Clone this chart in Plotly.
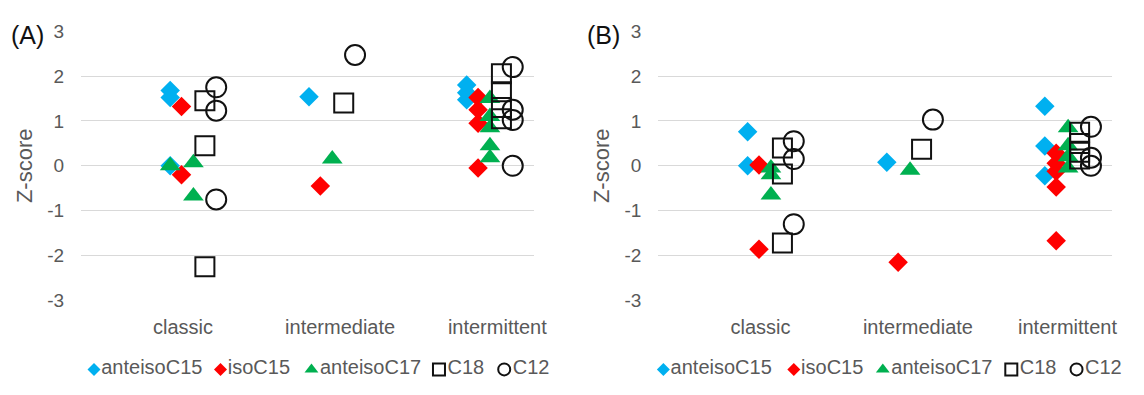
import plotly.graph_objects as go

# ---------------- data ----------------
CATEGORIES = ["classic", "intermediate", "intermittent"]
SERIES = ["anteisoC15", "isoC15", "anteisoC17", "C18", "C12"]

# Panel A : (category, z-score) per series
A_anteisoC15_cat = ["classic", "classic", "classic", "intermediate", "intermittent", "intermittent", "intermittent"]
A_anteisoC15_val = [1.68, 1.52, 0.0, 1.54, 1.80, 1.63, 1.47]
A_isoC15_cat = ["classic", "classic", "intermediate", "intermittent", "intermittent", "intermittent", "intermittent"]
A_isoC15_val = [1.32, -0.20, -0.45, 1.52, 1.25, 0.95, -0.05]
A_anteisoC17_cat = ["classic", "classic", "classic", "intermediate", "intermittent", "intermittent", "intermittent", "intermittent", "intermittent"]
A_anteisoC17_val = [0.0, 0.07, -0.67, 0.15, 1.50, 1.10, 0.85, 0.45, 0.18]
A_anteisoC17_shift = [-0.154, 0, 0, 0, 0, 0, 0, 0, 0]
A_C18_cat = ["classic", "classic", "classic", "intermediate", "intermittent", "intermittent", "intermittent", "intermittent"]
A_C18_val = [1.45, 0.45, -2.25, 1.40, 2.05, 1.65, 1.30, 1.05]
A_C12_cat = ["classic", "classic", "classic", "intermediate", "intermittent", "intermittent", "intermittent", "intermittent"]
A_C12_val = [1.75, 1.23, -0.75, 2.47, 2.20, 1.25, 1.02, 0.0]

# Panel B
B_anteisoC15_cat = ["classic", "classic", "intermediate", "intermittent", "intermittent", "intermittent"]
B_anteisoC15_val = [0.76, 0.0, 0.08, 1.33, 0.44, -0.22]
B_isoC15_cat = ["classic", "classic", "intermediate", "intermittent", "intermittent", "intermittent", "intermittent", "intermittent"]
B_isoC15_val = [0.02, -1.86, -2.15, 0.28, 0.06, -0.12, -0.47, -1.67]
B_anteisoC17_cat = ["classic", "classic", "classic", "intermediate", "intermittent", "intermittent", "intermittent", "intermittent"]
B_anteisoC17_val = [-0.05, -0.20, -0.65, -0.10, 0.85, 0.45, 0.20, -0.05]
B_C18_cat = ["classic", "classic", "classic", "intermediate", "intermittent", "intermittent", "intermittent", "intermittent"]
B_C18_val = [0.40, -0.18, -1.72, 0.37, 0.75, 0.50, 0.30, 0.15]
B_C12_cat = ["classic", "classic", "classic", "intermediate", "intermittent", "intermittent", "intermittent"]
B_C12_val = [0.55, 0.15, -1.30, 1.03, 0.87, 0.18, 0.0]

Y_TICKS = [-3, -2, -1, 0, 1, 2, 3]
Y_TICK_TEXT = ["-3", "-2", "-1", "0", "1", "2", "3"]

# ---------------- layout / style ----------------
FONT = "Liberation Sans, Arial, sans-serif"
GRAY = "#595959"
GROUP_X = {"classic": 1.09, "intermediate": 2.01, "intermittent": 3.055}
LABEL_X_A = [1.175, 2.216, 3.258]
LABEL_X_B = [1.175, 2.216, 3.205]
SERIES_DODGE = {"anteisoC15": 0.0, "isoC15": 0.075, "anteisoC17": 0.154, "C18": 0.23, "C12": 0.305}
STYLE = {
    "anteisoC15": dict(symbol="diamond", color="#00B0F0", size=15, line=dict(width=0)),
    "isoC15": dict(symbol="diamond", color="#FF0000", size=15, line=dict(width=0)),
    "anteisoC17": dict(symbol="triangle-up", color="#00B050", size=18, line=dict(width=0)),
    "C18": dict(symbol="square-open", color="#111111", size=19, line=dict(width=2)),
    "C12": dict(symbol="circle-open", color="#111111", size=20, line=dict(width=2)),
}
LEG_STYLE_SIZE = {"anteisoC15": 10, "isoC15": 10, "anteisoC17": 12, "C18": 12, "C12": 12}

panels = {
    "A": {
        "anteisoC15": (A_anteisoC15_cat, A_anteisoC15_val, None),
        "isoC15": (A_isoC15_cat, A_isoC15_val, None),
        "anteisoC17": (A_anteisoC17_cat, A_anteisoC17_val, A_anteisoC17_shift),
        "C18": (A_C18_cat, A_C18_val, None),
        "C12": (A_C12_cat, A_C12_val, None),
    },
    "B": {
        "anteisoC15": (B_anteisoC15_cat, B_anteisoC15_val, None),
        "isoC15": (B_isoC15_cat, B_isoC15_val, None),
        "anteisoC17": (B_anteisoC17_cat, B_anteisoC17_val, None),
        "C18": (B_C18_cat, B_C18_val, None),
        "C12": (B_C12_cat, B_C12_val, None),
    },
}

# The page keeps the browser's default 8px body margin, so the figure is
# sized to fill the 1144x395 window exactly with that margin around it.
PAGE_W, PAGE_H, OFF = 1144, 395, 8
W, H = PAGE_W - 2 * OFF, PAGE_H - 2 * OFF


def fx(px):  # page pixel (x) -> paper fraction
    return (px - OFF) / W


def fy(py):  # page pixel (y from top) -> paper fraction
    return 1 - (py - OFF) / H


fig = go.Figure()
axes_ids = {"A": ("x", "y"), "B": ("x2", "y2")}

for p, series in panels.items():
    xa, ya = axes_ids[p]
    for name in SERIES:
        cats, vals, shift = series[name]
        xs = []
        for i, c in enumerate(cats):
            x = GROUP_X[c] + SERIES_DODGE[name]
            if shift is not None:
                x += shift[i]
            xs.append(x)
        st = STYLE[name]
        fig.add_trace(go.Scatter(
            x=xs, y=vals, mode="markers", name=name, showlegend=False,
            xaxis=xa, yaxis=ya, cliponaxis=False,
            marker=dict(symbol=st["symbol"], color=st["color"], size=st["size"], line=st["line"]),
        ))

# custom legends (one row under each panel), positions in page pixels
LEGEND_PX = {"A": [95, 223, 315, 444, 510], "B": [671, 803, 893, 1023, 1089]}
for p in ["A", "B"]:
    for name, lx in zip(SERIES, LEGEND_PX[p]):
        st = STYLE[name]
        fig.add_trace(go.Scatter(
            x=[fx(lx)], y=[0.5], mode="markers+text", text=[name], textposition="middle right",
            textfont=dict(family=FONT, size=20, color=GRAY), showlegend=False,
            xaxis="x3", yaxis="y3", cliponaxis=False, hoverinfo="skip",
            marker=dict(symbol=st["symbol"], color=st["color"], size=LEG_STYLE_SIZE[name],
                        line=dict(width=2 if "open" in st["symbol"] else 0)),
        ))

y_dom = [fy(307), fy(22)]

yaxis_common = dict(
    range=[-3, 3], tickvals=Y_TICKS, ticktext=Y_TICK_TEXT, showgrid=True, gridcolor="#D9D9D9",
    gridwidth=1.3, zeroline=False, showline=False, ticks="", ticklabelstandoff=16,
    tickfont=dict(family=FONT, size=19, color=GRAY),
    title=dict(text="Z-score", font=dict(family=FONT, size=22, color=GRAY), standoff=8),
    fixedrange=True,
)
xaxis_common = dict(
    range=[0.5, 3.5], ticktext=CATEGORIES, showgrid=False, zeroline=False,
    showline=False, ticks="", ticklabelstandoff=13,
    tickfont=dict(family=FONT, size=20, color=GRAY), fixedrange=True,
)

# legend band centred at page y ~ 380
leg_c = fy(380)
fig.update_layout(
    width=W, height=H, margin=dict(l=0, r=0, t=0, b=0),
    paper_bgcolor="white", plot_bgcolor="white",
    font=dict(family=FONT, color=GRAY),
    xaxis=dict(domain=[fx(82), fx(540)], anchor="y", tickvals=LABEL_X_A, **xaxis_common),
    yaxis=dict(domain=y_dom, anchor="x", **yaxis_common),
    xaxis2=dict(domain=[fx(666), fx(1125)], anchor="y2", tickvals=LABEL_X_B, **xaxis_common),
    yaxis2=dict(domain=y_dom, anchor="x2", **yaxis_common),
    xaxis3=dict(domain=[0, 1], range=[0, 1], visible=False, anchor="y3", fixedrange=True),
    yaxis3=dict(domain=[0, 2 * leg_c], range=[0, 1], visible=False, anchor="x3",
                fixedrange=True),
    annotations=[
        dict(text="(A)", x=fx(9), y=fy(26), xref="paper", yref="paper", xanchor="left",
             yanchor="middle", showarrow=False, font=dict(family=FONT, size=25, color="#111111")),
        dict(text="(B)", x=fx(592), y=fy(26), xref="paper", yref="paper", xanchor="left",
             yanchor="middle", showarrow=False, font=dict(family=FONT, size=25, color="#111111")),
    ],
)

fig.write_html("out.html", config={"displayModeBar": False})
